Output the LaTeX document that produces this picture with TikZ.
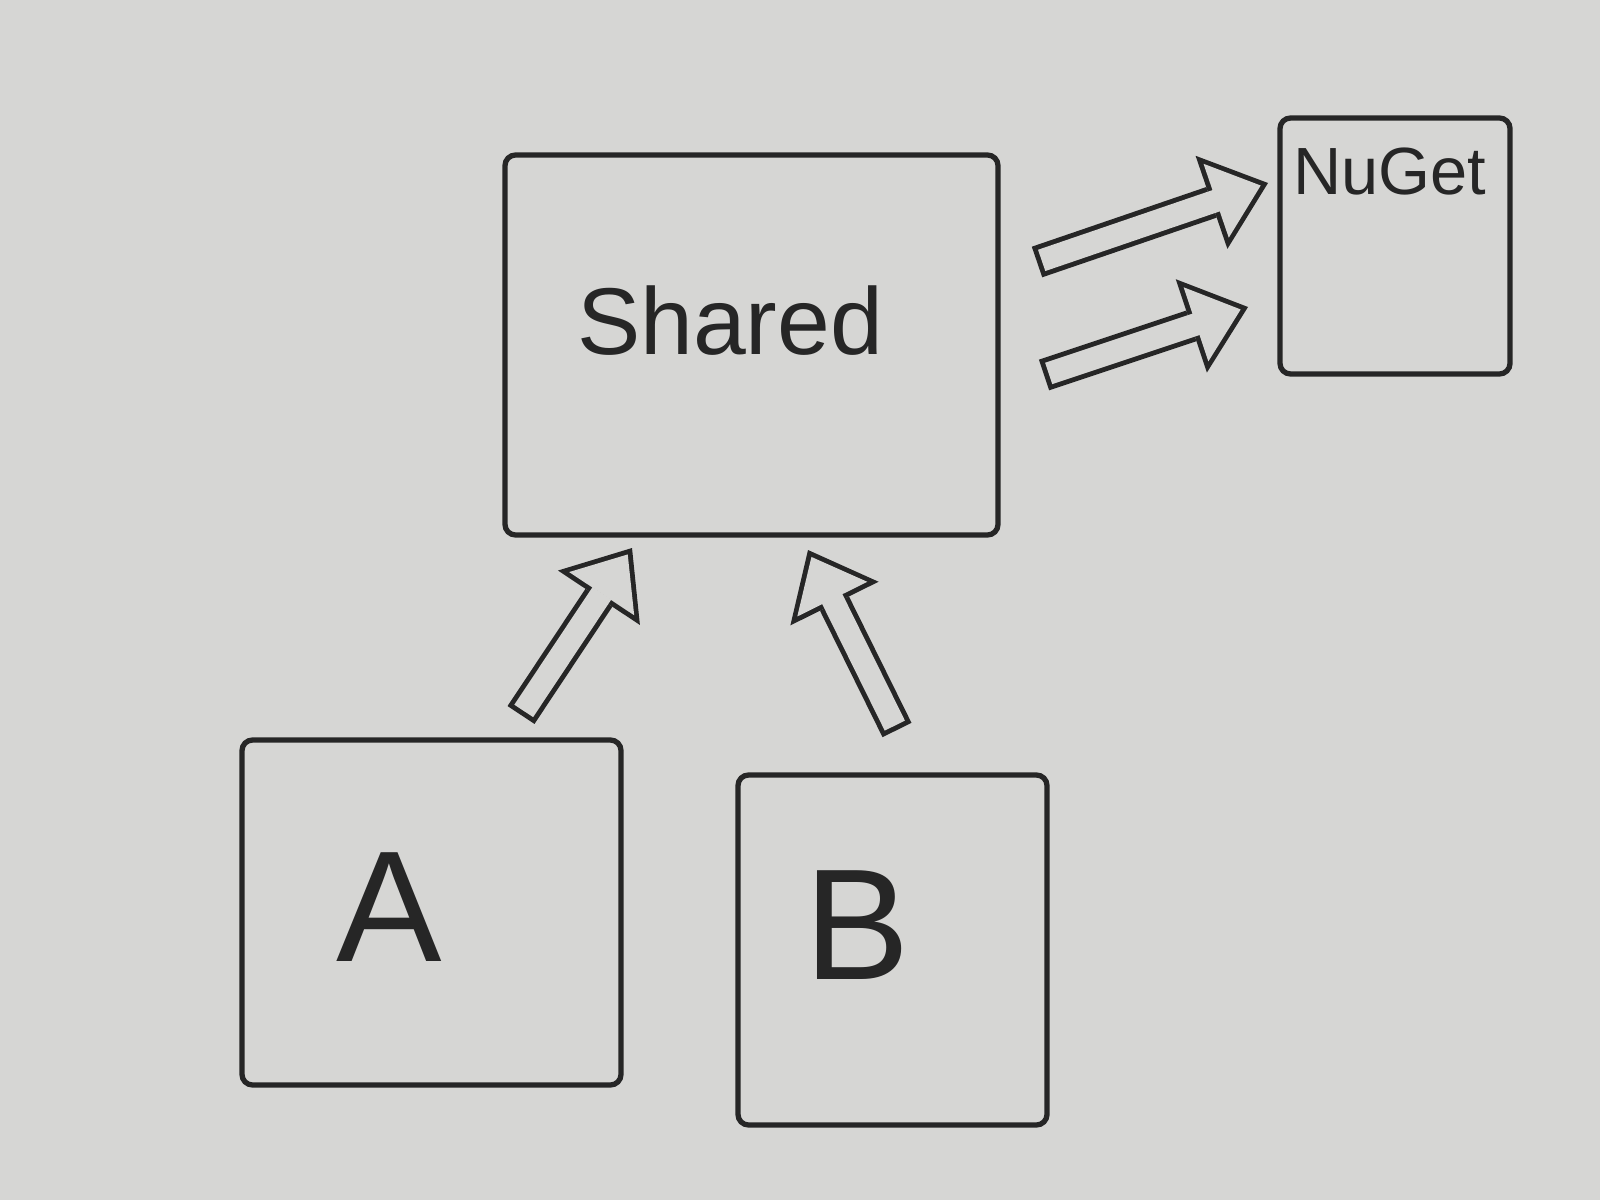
\documentclass[tikz,border=0pt]{standalone}
\usepackage{fontspec}
\setmainfont{Liberation Sans}
\usetikzlibrary{arrows.meta}
\usetikzlibrary{positioning}

\definecolor{board}{RGB}{214,214,212}
\definecolor{ink}{RGB}{38,38,38}

\begin{document}
\begin{tikzpicture}[box/.style={rectangle,draw=ink,line width=1.5pt,rounded corners=3pt,inner sep=0pt},
    hand text/.style={text=ink,inner sep=0pt},
    block out/.style={draw=ink,line width=9.2pt,-{Triangle[length=17pt,width=28pt,line width=0pt]}},
    block in/.style={draw=board,line width=6.4pt,shorten <=1.4pt,shorten >=2.2pt,-{Triangle[length=13.4pt,width=22.1pt,line width=0.6pt]}}]
  \useasboundingbox (0,0) rectangle (16,12);
  \fill[board] (0,0) rectangle (16,12);

  % boxes
  \node[box,minimum width=4.93cm,minimum height=3.80cm] (shared) at (7.515,8.55) {};
  \node[box,minimum width=2.30cm,minimum height=2.56cm] (nuget) at (13.95,9.54) {};
  \node[box,minimum width=3.79cm,minimum height=3.45cm] (a) at (4.315,2.875) {};
  \node[box,minimum width=3.09cm,minimum height=3.50cm] (b) at (8.925,2.50) {};

  % texts
  \node[hand text,font=\fontsize{27}{30}\selectfont] (sharedtext) at (7.30,8.79) {Shared};
  \node[hand text,font=\fontsize{19}{22}\selectfont] (nugettext) at (13.90,10.28) {NuGet};
  \node[hand text,font=\fontsize{45}{48}\selectfont] (atext) at (3.89,2.93) {A};
  \node[hand text,font=\fontsize{45}{48}\selectfont] (btext) at (8.57,2.75) {B};

  % arrow ends
  \coordinate (ta) at (5.21,4.85);
  \coordinate (ha) at (6.32,6.52);
  \coordinate (tb) at (8.97,4.70);
  \coordinate (hb) at (8.08,6.50);
  \coordinate (tn1) at (10.37,9.38);
  \coordinate (hn1) at (12.68,10.17);
  \coordinate (tn2) at (10.44,8.25);
  \coordinate (hn2) at (12.48,8.93);

  \foreach \s/\e in {ta/ha,tb/hb,tn1/hn1,tn2/hn2} {
    \draw[block out] (\s) -- (\e);
    \draw[block in] (\s) -- (\e);
  }
\end{tikzpicture}
\end{document}
